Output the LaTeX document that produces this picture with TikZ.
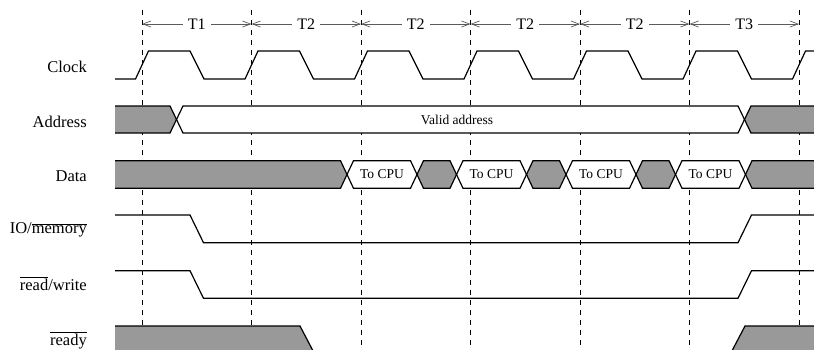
\documentclass[tikz,border=0pt]{standalone}
\usepackage{fontspec}
\setmainfont{Liberation Serif}
\usetikzlibrary{arrows.meta}
\definecolor{busgray}{RGB}{153,153,153}
\definecolor{dimgray}{RGB}{90,90,90}
\newcommand\hexseg[5]{%
  \pgfmathsetmacro\hexmid{(#4+#5)/2}%
  \filldraw[sig, fill=#1] (#2,\hexmid) -- (#2+6.5,#4) -- (#3-6.5,#4) -- (#3,\hexmid) -- (#3-6.5,#5) -- (#2+6.5,#5) -- cycle;}
\begin{document}
\begin{tikzpicture}[x=1pt,y=-1pt,
  sig/.style={line width=1.2pt, line join=miter},
  guide/.style={line width=0.8pt, dash pattern=on 5pt off 5pt, black},
  dim/.style={line width=0.7pt, dimgray, {Straight Barb[length=8pt,width=6pt]}-{Straight Barb[length=8pt,width=6pt]}},
  tlabel/.style={fill=white, inner sep=5pt, text=black, font=\fontsize{16}{18}\selectfont},
  siglabel/.style={anchor=base east, inner sep=0pt, font=\fontsize{16.5}{19}\selectfont},
  buslabel/.style={inner sep=0pt, font=\fontsize{13.5}{16}\selectfont}]
\useasboundingbox (0,0) rectangle (814,349);
\clip (0,0) rectangle (814,349);

% guide lines
\foreach \c in {142,251.5,361,470.5,580,689.5,799}
  \draw[guide] (\c,10) -- (\c,349);

% period dimension arrows
\coordinate (c0) at (142,24);
\coordinate (c1) at (251.5,24);
\coordinate (c2) at (361,24);
\coordinate (c3) at (470.5,24);
\coordinate (c4) at (580,24);
\coordinate (c5) at (689.5,24);
\coordinate (c6) at (799,24);
\draw[dim] (c0) -- node[tlabel] (p1) {T1} (c1);
\draw[dim] (c1) -- node[tlabel] (p2) {T2} (c2);
\draw[dim] (c2) -- node[tlabel] (p3) {T2} (c3);
\draw[dim] (c3) -- node[tlabel] (p4) {T2} (c4);
\draw[dim] (c4) -- node[tlabel] (p5) {T2} (c5);
\draw[dim] (c5) -- node[tlabel] (p6) {T3} (c6);

% signal labels
\node[siglabel] (lclock) at (87,72) {Clock};
\node[siglabel] (laddr) at (87,127.3) {Address};
\node[siglabel] (ldata) at (87,181.7) {Data};
\node[siglabel] (lio) at (87,233.3) {IO/$\overline{\mbox{memory}}$};
\node[siglabel] (lrw) at (87,290) {$\overline{\mbox{read}}$/write};
\node[siglabel] (lready) at (87,345) {$\overline{\mbox{ready}}$};

% clock
\draw[sig] (115,79) -- (135.5,79) -- (148.5,51) -- (190,51) -- (204,79)
  -- (245,79) -- (258,51) -- (299.5,51) -- (313.5,79)
  -- (354.5,79) -- (367.5,51) -- (409,51) -- (423,79)
  -- (464,79) -- (477,51) -- (518.5,51) -- (532.5,79)
  -- (573.5,79) -- (586.5,51) -- (628,51) -- (642,79)
  -- (683,79) -- (696,51) -- (737.5,51) -- (751.5,79)
  -- (792.5,79) -- (805.5,51) -- (820,51);

% address bus
\fill[busgray] (115,106) -- (170,106) -- (176.5,119.5) -- (170,133) -- (115,133) -- cycle;
\draw[sig] (115,106) -- (170,106) -- (176.5,119.5) -- (170,133) -- (115,133);
\hexseg{white}{176.5}{744.5}{106}{133}
\fill[busgray] (744.5,119.5) -- (751,106) -- (820,106) -- (820,133) -- (751,133) -- cycle;
\draw[sig] (820,106) -- (751,106) -- (744.5,119.5) -- (751,133) -- (820,133);
\node[buslabel] (valid) at (457,119.5) {Valid address};

% data bus
\fill[busgray] (115,160.7) -- (340.5,160.7) -- (347,174.5) -- (340.5,188.3) -- (115,188.3) -- cycle;
\draw[sig] (115,160.7) -- (340.5,160.7) -- (347,174.5) -- (340.5,188.3) -- (115,188.3);
\hexseg{white}{347}{417}{160.7}{188.3}
\hexseg{busgray}{417}{456.5}{160.7}{188.3}
\hexseg{white}{456.5}{526.5}{160.7}{188.3}
\hexseg{busgray}{526.5}{566}{160.7}{188.3}
\hexseg{white}{566}{636}{160.7}{188.3}
\hexseg{busgray}{636}{675.5}{160.7}{188.3}
\hexseg{white}{675.5}{745.5}{160.7}{188.3}
\fill[busgray] (745.5,174.5) -- (752,160.7) -- (820,160.7) -- (820,188.3) -- (752,188.3) -- cycle;
\draw[sig] (820,160.7) -- (752,160.7) -- (745.5,174.5) -- (752,188.3) -- (820,188.3);
\node[buslabel] (d1) at (382,174.5) {To CPU};
\node[buslabel] (d2) at (491.5,174.5) {To CPU};
\node[buslabel] (d3) at (601,174.5) {To CPU};
\node[buslabel] (d4) at (710.5,174.5) {To CPU};

% IO/memory
\draw[sig] (115,215) -- (190,215) -- (203.5,242.7) -- (738,242.7) -- (751.5,215) -- (820,215);
% read/write
\draw[sig] (115,270.7) -- (190,270.7) -- (203.5,298.3) -- (738,298.3) -- (751.5,270.7) -- (820,270.7);

% ready
\fill[busgray] (115,326) -- (300,326) -- (315.7,356) -- (115,356) -- cycle;
\draw[sig] (115,326) -- (300,326) -- (315.7,356);
\fill[busgray] (729.3,356) -- (745,326) -- (820,326) -- (820,356) -- cycle;
\draw[sig] (729.3,356) -- (745,326) -- (820,326);
\end{tikzpicture}
\end{document}
